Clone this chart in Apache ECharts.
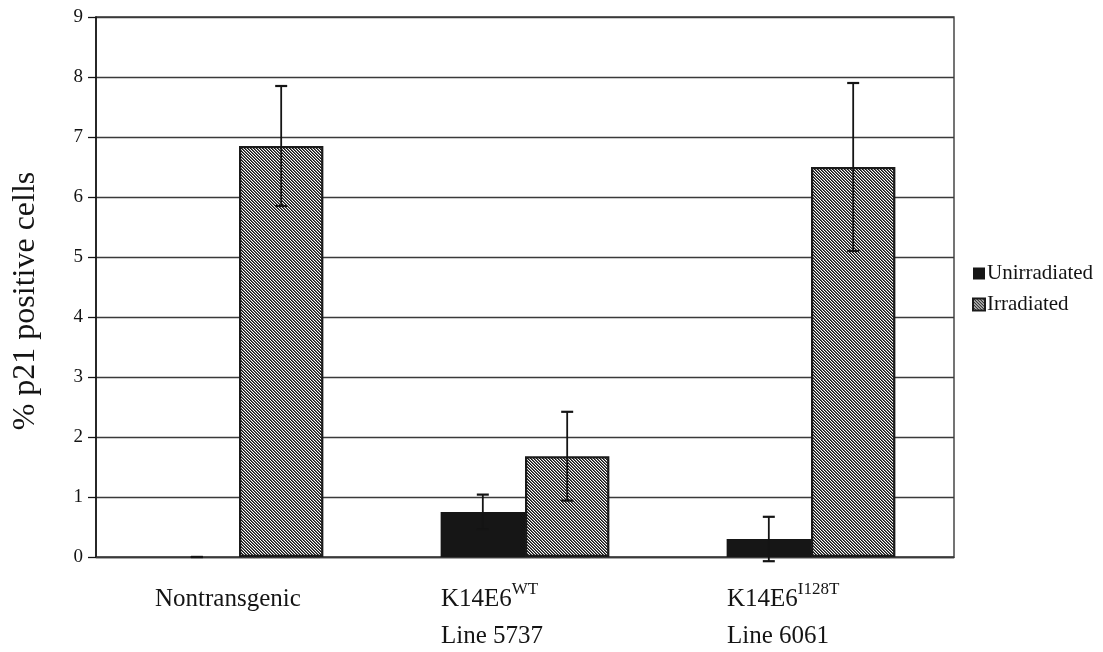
<!DOCTYPE html>
<html>
<head>
<meta charset="utf-8">
<script src="https://cdn.jsdelivr.net/npm/echarts@6/dist/echarts.min.js"></script>
<style>
  html, body { margin: 0; padding: 0; background: #fff; }
  #chart { width: 1103px; height: 652px; }
</style>
</head>
<body>
<div id="chart"></div>
<script>
// Group labels: main text, superscript, and optional second line
const categoryMain = ['Nontransgenic', 'K14E6', 'K14E6'];
const categorySup = ['', 'WT', 'I128T'];
const categoryLine2 = ['', 'Line 5737', 'Line 6061'];

// % p21 positive cells, mean and error
const unirradiated = [0, 0.75, 0.3];
const unirradiatedErr = [0, 0.29, 0.37];
const irradiated = [6.85, 1.68, 6.5];
const irradiatedErr = [1.0, 0.74, 1.4];

const yTicks = [0, 1, 2, 3, 4, 5, 6, 7, 8, 9];

const FONT = '"Liberation Serif", "Times New Roman", serif';
const INK = '#141414';

// Diagonal hatch tile for the irradiated bars
function hatchPattern() {
  const n = 3;
  const c = document.createElement('canvas');
  c.width = n; c.height = n;
  const ctx = c.getContext('2d');
  ctx.fillStyle = '#ffffff';
  ctx.fillRect(0, 0, n, n);
  for (let y = 0; y < n; y++) {
    for (let x = 0; x < n; x++) {
      const d = ((x - y) % n + n) % n;
      if (d === 0) { ctx.fillStyle = '#151515'; ctx.fillRect(x, y, 1, 1); }
      if (d === 1) { ctx.fillStyle = '#606060'; ctx.fillRect(x, y, 1, 1); }
    }
  }
  return { image: c, repeat: 'repeat' };
}

const categories = categoryMain.map((m, i) => i);

const BAND_FILL = 0.59; // share of each category taken by the two bars

function errorSeries(values, errs, side) {
  return {
    type: 'custom',
    name: side < 0 ? 'errU' : 'errI',
    z: 5,
    silent: true,
    data: values.map((v, i) => [i, v, errs[i]]),
    renderItem: function (params, api) {
      const idx = api.value(0);
      const v = api.value(1);
      const e = api.value(2);
      const band = api.size([1, 0])[0];
      const barW = band * BAND_FILL / 2;
      const center = api.coord([idx, v]);
      const x = center[0] + side * barW / 2;
      const hi = api.coord([idx, v + e])[1];
      const lo = api.coord([idx, v - e])[1];
      const cap = 6;
      const capStyle = { stroke: INK, lineWidth: 2.2 };
      return {
        type: 'group',
        children: [
          { type: 'line', shape: { x1: x, y1: hi, x2: x, y2: lo }, style: { stroke: INK, lineWidth: 1.8 } },
          { type: 'line', shape: { x1: x - cap, y1: hi, x2: x + cap, y2: hi }, style: capStyle },
          { type: 'line', shape: { x1: x - cap, y1: lo, x2: x + cap, y2: lo }, style: capStyle }
        ]
      };
    }
  };
}

const chart = echarts.init(document.getElementById('chart'), null, { renderer: 'canvas' });
const hatch = hatchPattern();

chart.setOption({
  backgroundColor: '#ffffff',
  animation: false,
  textStyle: { fontFamily: FONT },
  grid: {
    left: 96, right: 149, top: 17, bottom: 95,
    show: true, borderColor: '#3a3a3a', borderWidth: 1.4
  },
  legend: {
    data: ['Unirradiated', 'Irradiated'],
    orient: 'vertical',
    left: 967, top: 258,
    itemWidth: 12, itemHeight: 12,
    itemGap: 10,
    icon: 'rect',
    textStyle: { fontFamily: FONT, fontSize: 21, color: INK, padding: [0, 0, 0, -3] }
  },
  xAxis: {
    type: 'category',
    data: categories,
    axisTick: { show: false },
    axisLine: { lineStyle: { color: '#3a3a3a', width: 1.4 } },
    axisLabel: {
      margin: 24,
      interval: 0,
      formatter: function (v) {
        const i = Number(v);
        if (!categoryLine2[i]) return '{w|' + categoryMain[i] + '}';
        let s = '{b|' + categoryMain[i] + '}';
        if (categorySup[i]) s += '{s|' + categorySup[i] + '}';
        s += '\n{w|' + categoryLine2[i] + '}';
        return s;
      },
      rich: {
        w: { fontFamily: FONT, fontSize: 25, color: INK, lineHeight: 37, width: 168, align: 'left' },
        b: { fontFamily: FONT, fontSize: 25, color: INK, lineHeight: 37, align: 'left' },
        s: { fontFamily: FONT, fontSize: 17, color: INK, lineHeight: 22, verticalAlign: 'top', align: 'left' }
      }
    }
  },
  yAxis: {
    type: 'value',
    min: 0, max: 9, interval: 1,
    name: '% p21 positive cells',
    nameLocation: 'middle',
    nameGap: 54,
    nameTextStyle: { fontFamily: FONT, fontSize: 32, color: INK, padding: [0, 28, 0, 0] },
    axisLine: { show: true, lineStyle: { color: INK, width: 1.6 } },
    axisTick: { show: true, length: 8, lineStyle: { color: INK, width: 1.3 } },
    axisLabel: {
      margin: 13,
      fontFamily: FONT, fontSize: 19, color: INK,
      formatter: function (v) { return yTicks.indexOf(v) >= 0 ? String(v) : ''; }
    },
    splitLine: { show: true, lineStyle: { color: '#3a3a3a', width: 1.4 } }
  },
  series: [
    {
      name: 'Unirradiated',
      type: 'bar',
      data: unirradiated,
      barGap: '0%',
      barCategoryGap: ((1 - BAND_FILL) * 100) + '%',
      itemStyle: { color: '#161616', borderWidth: 0 }
    },
    {
      name: 'Irradiated',
      type: 'bar',
      data: irradiated,
      barGap: '0%',
      barCategoryGap: ((1 - BAND_FILL) * 100) + '%',
      itemStyle: { color: hatch, borderColor: '#1a1a1a', borderWidth: 2.2 }
    },
    errorSeries(unirradiated, unirradiatedErr, -1),
    errorSeries(irradiated, irradiatedErr, 1)
  ]
});
</script>
</body>
</html>
